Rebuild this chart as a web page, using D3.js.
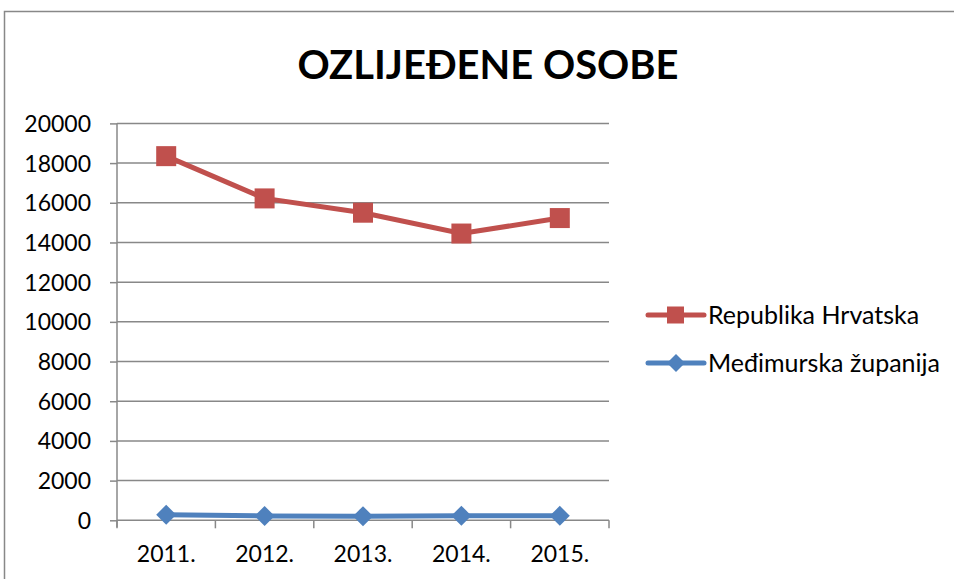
<!DOCTYPE html>
<html><head><meta charset="utf-8">
<script src="https://cdn.jsdelivr.net/npm/d3@7"></script>
<style>body{margin:0;background:#fff}svg{display:block}</style>
</head><body>
<svg id="c" width="954" height="579"></svg>
<script>
const years = ["2011.", "2012.", "2013.", "2014.", "2015."];
const hrvatska = [18350, 16220, 15500, 14450, 15230];
const medimurska = [280, 220, 210, 230, 225];
const yTicks = [0, 2000, 4000, 6000, 8000, 10000, 12000, 14000, 16000, 18000, 20000];
const seriesNames = ["Republika Hrvatska", "Međimurska županija"];
const title = "OZLIJEĐENE OSOBE";

const svg = d3.select("#c");
const font = "Lato, 'Open Sans', sans-serif";
// outer chart border
svg.append("rect").attr("x", 4.5).attr("y", 11.5).attr("width", 1000).attr("height", 1000)
  .attr("fill", "none").attr("stroke", "#888").attr("stroke-width", 1.5);

svg.append("text").attr("x", 488).attr("y", 79).attr("text-anchor", "middle")
  .attr("font-family", font).attr("font-weight", "bold").attr("font-size", 40)
  .attr("textLength", 381).attr("lengthAdjust", "spacingAndGlyphs")
  .text(title);

const x = d3.scaleBand().domain(years).range([117, 609]);
const y = d3.scaleLinear().domain([0, 20000]).range([520.3, 123.4]);

// gridlines
svg.append("g").selectAll("line").data(yTicks.filter(d => d > 0)).join("line")
  .attr("x1", 117).attr("x2", 609).attr("y1", d => y(d)).attr("y2", d => y(d))
  .attr("stroke", "#888").attr("stroke-width", 1.5);

// y axis
const ya = svg.append("g").attr("transform", "translate(117,0)")
  .call(d3.axisLeft(y).tickValues(yTicks).tickSize(7).tickPadding(19).tickFormat(d3.format("d")));
ya.select(".domain").attr("stroke", "#888").attr("stroke-width", 1.5).attr("d", `M0,${y(0)+7}V${y(20000)}`);
ya.selectAll(".tick line").attr("stroke", "#888").attr("stroke-width", 1.5);
ya.selectAll("text").attr("font-family", font).attr("font-size", 23).attr("fill", "#000").attr("dy", "0.35em");

// x axis
const xa = svg.append("g").attr("transform", `translate(0,${y(0)})`)
  .call(d3.axisBottom(x).tickSize(0).tickPadding(25));
xa.select(".domain").attr("stroke", "#888").attr("stroke-width", 1.5).attr("d", "M117,0H609");
xa.selectAll("text").attr("font-family", font).attr("font-size", 23).attr("fill", "#000");
const bounds = years.map(d => x(d)).concat([609]);
xa.append("g").selectAll("line").data(bounds).join("line")
  .attr("x1", d => d).attr("x2", d => d).attr("y1", 0).attr("y2", 8)
  .attr("stroke", "#888").attr("stroke-width", 1.5);

const cx = d => x(d) + x.bandwidth() / 2;
const line = d3.line().x((d, i) => cx(years[i])).y(d => y(d));

const red = "#C0504D", blue = "#4F81BD";
svg.append("path").datum(hrvatska).attr("d", line).attr("fill", "none").attr("stroke", red).attr("stroke-width", 5);
svg.append("path").datum(medimurska).attr("d", line).attr("fill", "none").attr("stroke", blue).attr("stroke-width", 5);

svg.append("g").selectAll("rect").data(hrvatska).join("rect")
  .attr("x", (d, i) => cx(years[i]) - 10).attr("y", d => y(d) - 10)
  .attr("width", 20).attr("height", 20).attr("fill", red);
svg.append("g").selectAll("path").data(medimurska).join("path")
  .attr("transform", (d, i) => `translate(${cx(years[i])},${y(d)})`)
  .attr("d", "M0,-10L10,0L0,10L-10,0Z").attr("fill", blue);

// legend
const lg = svg.append("g");
const ly = [315, 363];
[red, blue].forEach((c, i) => {
  lg.append("line").attr("x1", 648).attr("x2", 704).attr("y1", ly[i]).attr("y2", ly[i])
    .attr("stroke", c).attr("stroke-width", 5).attr("stroke-linecap", "round");
  if (i === 0) lg.append("rect").attr("x", 667).attr("y", ly[i] - 8.5).attr("width", 17).attr("height", 17).attr("fill", c);
  else lg.append("path").attr("transform", `translate(676,${ly[i]})`).attr("d", "M0,-9L9,0L0,9L-9,0Z").attr("fill", c);
  lg.append("text").attr("x", 708).attr("y", ly[i]).attr("dy", "0.35em")
    .attr("font-family", font).attr("font-size", 25).text(seriesNames[i]);
});
</script>
</body></html>
